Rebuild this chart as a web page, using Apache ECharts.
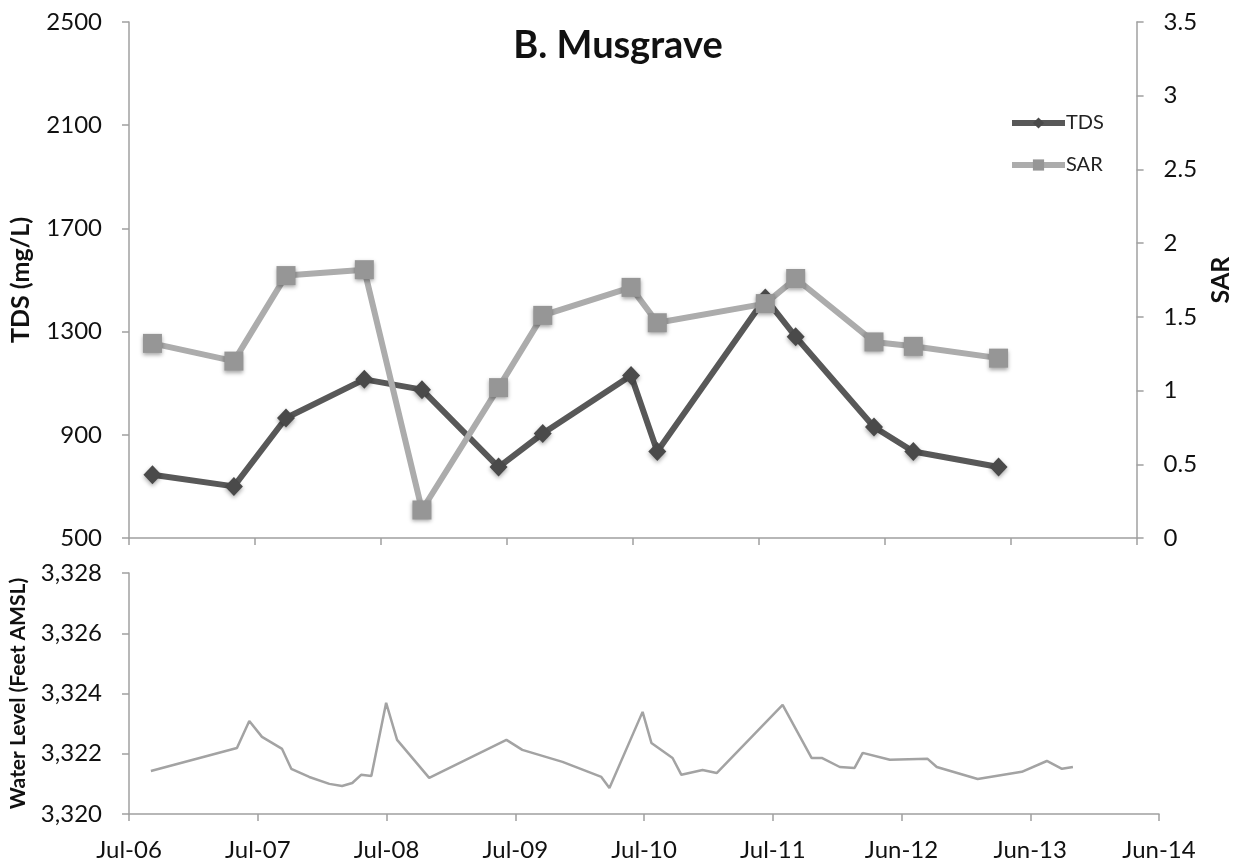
<!DOCTYPE html>
<html><head><meta charset="utf-8">
<script src="https://cdn.jsdelivr.net/npm/echarts@6/dist/echarts.min.js"></script>
<style>html,body{margin:0;padding:0;background:#fff}#c{width:1241px;height:865px}</style>
</head><body><div id="c"></div>
<script>
// ---- data ----
const ORIGIN = '2006-07-02';          // first x tick (Excel date axis, 365-day major unit)
const xTickDays = 365;
const xTickCount = 8;
const monthNames = ['Jan','Feb','Mar','Apr','May','Jun','Jul','Aug','Sep','Oct','Nov','Dec'];

const sampleDates = ['2006-09-08','2007-05-02','2007-09-30','2008-05-14','2008-10-28','2009-06-07','2009-10-13',
                     '2010-06-26','2010-09-10','2011-07-20','2011-10-16','2012-05-30','2012-09-21','2013-05-26'];
const tdsValues = [745, 700, 965, 1115, 1075, 775, 905, 1130, 835, 1430, 1280, 930, 835, 775];
const sarValues = [1.32, 1.20, 1.78, 1.82, 0.19, 1.02, 1.51, 1.70, 1.46, 1.59, 1.76, 1.33, 1.30, 1.22];

const levelDates = ['2006-09-02','2007-05-04','2007-06-08','2007-07-14','2007-09-09','2007-10-05','2007-11-25',
  '2008-01-21','2008-02-26','2008-03-26','2008-04-20','2008-05-19','2008-06-30','2008-07-31','2008-10-30',
  '2009-06-06','2009-07-21','2009-11-12','2010-03-02','2010-03-25','2010-06-27','2010-07-22','2010-09-20',
  '2010-10-15','2010-12-14','2011-01-23','2011-07-29','2011-10-19','2011-11-17','2012-01-07','2012-02-18',
  '2012-03-12','2012-05-28','2012-09-12','2012-10-08','2013-02-01','2013-06-06','2013-08-16','2013-09-28','2013-10-29'];
const levelValues = [3321.43,3322.19,3323.09,3322.56,3322.16,3321.50,3321.23,
  3321.00,3320.93,3321.03,3321.30,3321.26,3323.69,3322.46,3321.20,
  3322.46,3322.13,3321.73,3321.23,3320.86,3323.39,3322.36,3321.86,
  3321.30,3321.46,3321.36,3323.62,3321.86,3321.86,3321.56,3321.53,
  3322.03,3321.80,3321.83,3321.56,3321.16,3321.40,3321.76,3321.50,3321.56];

const tdsAxis = {min: 500, max: 2500, interval: 400};
const sarAxis = {min: 0, max: 3.5, interval: 0.5};
const levelAxis = {min: 3320, max: 3328, interval: 2};

// ---- helpers ----
const DAY = 86400000;
const t0 = Date.parse(ORIGIN + 'T00:00:00Z');
const dayOf = s => Math.round((Date.parse(s + 'T00:00:00Z') - t0) / DAY);
const dateLabel = v => { const d = new Date(t0 + v * DAY); return monthNames[d.getUTCMonth()] + '-' + String(d.getUTCFullYear()).slice(2); };
const pair = (ds, vs) => ds.map((d, i) => [dayOf(d), vs[i]]);

const FONT = 'Lato';
const axisColor = '#a0a0a0';
const lbl = {color: '#111', fontSize: 24, fontFamily: FONT};

const xBase = {
  type: 'value', min: 0, max: xTickDays * xTickCount, interval: xTickDays,
  axisLine: {show: true, lineStyle: {color: axisColor, width: 1.5}},
  axisTick: {show: true, length: 7, lineStyle: {color: axisColor, width: 1.5}},
  splitLine: {show: false}
};
const yBase = {
  type: 'value',
  axisLine: {show: true, lineStyle: {color: axisColor, width: 1.5}},
  axisTick: {show: true, length: 7, lineStyle: {color: axisColor, width: 1.5}},
  splitLine: {show: false}
};

const chart = echarts.init(document.getElementById('c'), null, {renderer: 'canvas'});
chart.setOption({
  backgroundColor: '#fff',
  animation: false,
  title: {text: 'B. Musgrave', left: 613, top: 22, textAlign: 'center',
    textStyle: {fontFamily: FONT, fontWeight: 'bold', fontSize: 38, color: '#111'}},
  legend: {
    orient: 'vertical', left: 1004, top: 108, itemWidth: 53, itemHeight: 14, itemGap: 22,
    lineStyle: {width: 6},
    textStyle: {fontFamily: FONT, fontSize: 20, color: '#222', padding: [0, 0, 0, -4]},
    data: ['TDS', 'SAR']
  },
  grid: [
    {left: 128, right: 86, top: 22, height: 516},
    {left: 129, right: 82, top: 573, height: 241}
  ],
  xAxis: [
    Object.assign({}, xBase, {gridIndex: 0, axisLabel: {show: false}}),
    Object.assign({}, xBase, {gridIndex: 1,
      axisLabel: Object.assign({}, lbl, {margin: 24, formatter: dateLabel})})
  ],
  yAxis: [
    Object.assign({}, yBase, tdsAxis, {gridIndex: 0, position: 'left',
      axisLabel: Object.assign({}, lbl, {margin: 27, formatter: v => String(v)}),
      name: 'TDS (mg/L)', nameLocation: 'middle', nameGap: 96,
      nameTextStyle: {fontFamily: FONT, fontWeight: 'bold', fontSize: 25, color: '#111'}}),
    Object.assign({}, yBase, sarAxis, {gridIndex: 0, position: 'right',
      axisLabel: Object.assign({}, lbl, {margin: 27}),
      name: 'SAR', nameLocation: 'middle', nameGap: 55,
      nameTextStyle: {fontFamily: FONT, fontWeight: 'bold', fontSize: 25, color: '#111'}}),
    Object.assign({}, yBase, levelAxis, {gridIndex: 1, position: 'left',
      axisLabel: Object.assign({}, lbl, {margin: 27, formatter: v => v.toLocaleString('en-US')}),
      name: 'Water Level (Feet AMSL)', nameLocation: 'middle', nameGap: 100,
      nameTextStyle: {fontFamily: FONT, fontWeight: 'bold', fontSize: 21, color: '#111'}})
  ],
  series: [
    {name: 'TDS', type: 'line', xAxisIndex: 0, yAxisIndex: 0, data: pair(sampleDates, tdsValues),
      symbol: 'diamond', symbolSize: [18, 19], showSymbol: true,
      lineStyle: {color: '#585858', width: 6},
      itemStyle: {color: '#4a4a4a', shadowBlur: 4, shadowColor: 'rgba(0,0,0,0.35)', shadowOffsetY: 2}},
    {name: 'SAR', type: 'line', xAxisIndex: 0, yAxisIndex: 1, data: pair(sampleDates, sarValues),
      symbol: 'rect', symbolSize: 19, showSymbol: true,
      lineStyle: {color: '#acacac', width: 6},
      itemStyle: {color: '#969696', shadowBlur: 4, shadowColor: 'rgba(0,0,0,0.35)', shadowOffsetY: 2}},
    {name: 'Water Level', type: 'line', xAxisIndex: 1, yAxisIndex: 2, data: pair(levelDates, levelValues),
      showSymbol: false, symbol: 'none',
      lineStyle: {color: '#a3a3a3', width: 2.5}}
  ]
});
</script></body></html>
